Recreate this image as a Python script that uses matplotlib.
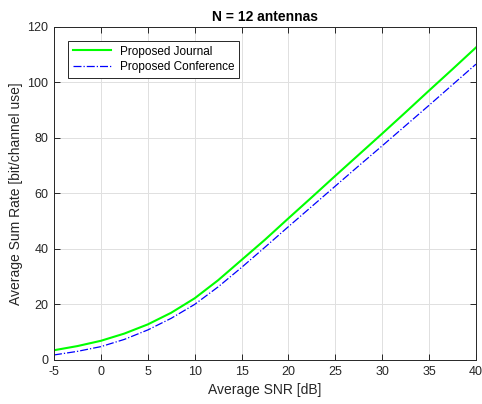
import matplotlib.pyplot as plt

snr_db = [-5, -2.5, 0, 2.5, 5, 7.5, 10, 12.5, 15, 17.5, 20, 22.5, 25, 27.5, 30, 32.5, 35, 37.5, 40]
rate_journal = [3.5, 5.0, 6.9, 9.5, 12.8, 17.0, 22.2, 28.7, 36.0, 43.3, 51.0, 58.6, 66.3, 73.9,
                81.5, 89.2, 97.0, 104.7, 112.5]
rate_conference = [1.8, 3.1, 4.8, 7.4, 10.8, 15.0, 20.0, 26.3, 33.3, 40.6, 48.0, 55.3, 62.6, 69.9,
                   77.1, 84.4, 91.7, 99.1, 106.5]

plt.rcParams["font.family"] = ["Liberation Sans", "DejaVu Sans"]
plt.rcParams["axes.unicode_minus"] = False
axcol = "#262626"

fig = plt.figure(figsize=(4.82, 4.04), dpi=100)
ax = fig.add_axes([0.112, 0.109, 0.8755, 0.825])

ax.plot(snr_db, rate_journal, "-", color=(0, 1, 0), lw=1.5, label="Proposed Journal")
ax.plot(snr_db, rate_conference, "-.", color=(0, 0, 1), lw=0.9, label="Proposed Conference")

ax.set_xlim(-5, 40)
ax.set_ylim(0, 120)
ax.set_xticks(range(-5, 41, 5))
ax.set_yticks(range(0, 121, 20))

ax.grid(True, color="#e0e0e0", lw=0.7)
ax.set_axisbelow(True)
ax.tick_params(direction="in", top=True, right=True, length=4, width=0.7,
               labelsize=9, colors=axcol, pad=4)
for s in ax.spines.values():
    s.set_color(axcol)
    s.set_linewidth(0.7)

ax.set_xlabel("Average SNR [dB]", fontsize=10, color=axcol)
ax.set_ylabel("Average Sum Rate [bit/channel use]", fontsize=10, color=axcol, labelpad=3)
ax.set_title("N = 12 antennas", fontsize=10, fontweight="bold", pad=4)

leg = ax.legend(loc="upper left", fontsize=8.5, fancybox=False, framealpha=1,
                edgecolor=axcol, borderaxespad=1.2, handlelength=3.2,
                borderpad=0.4, labelspacing=0.3)
leg.get_frame().set_linewidth(0.7)

fig.savefig("out.png", dpi=100)
